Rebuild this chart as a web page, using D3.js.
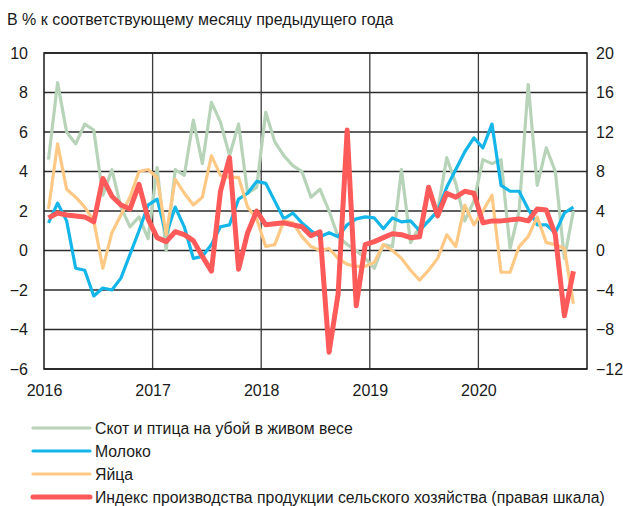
<!DOCTYPE html>
<html>
<head>
<meta charset="utf-8">
<script src="https://cdn.jsdelivr.net/npm/d3@7"></script>
<style>
  body { margin: 0; background: #fff; }
  text { font-family: "Liberation Sans", Arial, sans-serif; fill: #1a1a1a; }
</style>
</head>
<body>
<script>
var svgWidth = 623;
var svgHeight = 506;

var margin = { top: 53, right: 36, bottom: 137, left: 44 };
var width = svgWidth - margin.left - margin.right;
var height = svgHeight - margin.top - margin.bottom;

// monthly values, Jan 2016 .. Nov 2020
var years = ["2016", "2017", "2018", "2019", "2020"];
var leftTicks = [-6, -4, -2, 0, 2, 4, 6, 8, 10];
var rightTicks = [-12, -8, -4, 0, 4, 8, 12, 16, 20];

var livestock = [4.6, 8.5, 6.0, 5.4, 6.4, 6.1, 2.8, 4.1, 2.2, 1.2, 1.7, 0.6,
                 4.2, 0.0, 4.1, 3.8, 6.6, 4.4, 7.5, 6.5, 4.8, 6.4, 2.9, 3.2,
                 7.0, 5.5, 4.8, 4.3, 4.0, 2.7, 3.1, 2.0, 0.7, 0.3, 0.0, -0.4,
                 -0.9, 0.3, 0.2, 4.1, 0.4, 1.2, 1.5, 2.0, 4.7, 3.4, 1.5, 2.5,
                 4.6, 4.4, 4.6, 0.1, 2.0, 8.4, 3.3, 5.2, 4.0, -0.4, 2.0];
var milk = [1.4, 2.4, 1.5, -0.9, -1.0, -2.3, -1.9, -2.0, -1.4, -0.2, 1.0, 2.3,
            2.6, 0.8, 2.2, 1.2, -0.4, -0.3, 0.3, 1.2, 1.3, 2.6, 2.9, 3.5,
            3.4, 2.5, 1.6, 1.9, 1.4, 1.0, 0.7, 0.9, 0.7, 1.3, 1.6, 1.7,
            1.65, 1.1, 1.65, 1.45, 1.5, 1.0, 1.5, 2.0, 3.2, 4.1, 5.0, 5.7,
            5.2, 6.4, 3.3, 3.0, 3.0, 2.1, 1.3, 1.3, 0.9, 1.9, 2.2];
var eggs = [2.1, 5.4, 3.1, 2.7, 2.2, 1.5, -0.9, 0.9, 1.8, 2.7, 4.0, 4.1,
            3.7, 0.8, 3.6, 2.9, 2.3, 2.7, 4.8, 3.8, 3.7, 3.7, 2.2, 1.6,
            0.2, 0.3, 1.5, 1.4, 0.7, 0.2, 0.0, 0.1, -0.4, -0.7, -0.8, -0.8,
            -0.6, 0.3, 0.0, -0.4, -1.0, -1.5, -1.0, -0.4, 0.8, 0.2, 2.3, 1.3,
            2.0, 2.8, -1.1, -1.1, 0.2, 0.7, 1.7, 0.4, 0.3, 0.1, -2.7];
// right scale
var agriIndex = [3.3, 3.8, 3.6, 3.5, 3.4, 2.9, 7.3, 5.5, 4.6, 4.2, 6.7, 3.2,
                 1.3, 0.9, 1.9, 1.6, 1.0, -0.6, -2.1, 6.0, 9.4, -1.9, 1.8, 4.0,
                 2.6, 2.7, 2.8, 2.6, 2.4, 1.5, 1.9, -10.3, -4.4, 12.2, -5.6, 0.6,
                 0.9, 1.3, 1.7, 1.6, 1.3, 1.4, 6.4, 3.5, 5.8, 5.4, 6.0, 5.8,
                 2.8, 3.0, 3.0, 3.1, 3.2, 3.0, 4.2, 4.1, 1.6, -6.6, -2.1];

var seriesNames = ["Скот и птица на убой в живом весе", "Молоко", "Яйца",
                   "Индекс производства продукции сельского хозяйства (правая шкала)"];
var colors = ["#b7d3b8", "#14b6e9", "#ffc985", "#ff5a5a"];
var widths = [3.2, 3.2, 3.2, 5];

var svg = d3.select("body").append("svg")
            .attr("width", svgWidth)
            .attr("height", svgHeight);

svg.append("text")
   .attr("x", 7)
   .attr("y", 25)
   .style("font-size", "16px")
   .text("В % к соответствующему месяцу предыдущего года");

var chartGroup = svg.append("g")
                    .attr("transform", `translate(${margin.left}, ${margin.top})`);

var xScale = d3.scaleLinear().domain([0, 60]).range([0, width]);
var yLeft = d3.scaleLinear().domain([-6, 10]).range([height, 0]);
var yRight = d3.scaleLinear().domain([-12, 20]).range([height, 0]);

// horizontal grid
chartGroup.selectAll(".hgrid")
          .data(leftTicks)
          .enter()
          .append("line")
          .attr("x1", 0)
          .attr("x2", width)
          .attr("y1", d => yLeft(d))
          .attr("y2", d => yLeft(d))
          .attr("stroke", "#2b2b2b")
          .attr("stroke-width", 1.3);

// vertical year lines
chartGroup.selectAll(".vgrid")
          .data(years.slice(1))
          .enter()
          .append("line")
          .attr("x1", (d, i) => xScale((i + 1) * 12))
          .attr("x2", (d, i) => xScale((i + 1) * 12))
          .attr("y1", 0)
          .attr("y2", height)
          .attr("stroke", "#3a3a3a")
          .attr("stroke-width", 1.3);

chartGroup.append("rect")
          .attr("width", width)
          .attr("height", height)
          .attr("fill", "none")
          .attr("stroke", "#1a1a1a")
          .attr("stroke-width", 1.5);

// axis labels
var leftAxis = d3.axisLeft(yLeft).tickValues(leftTicks).tickSize(0).tickPadding(16);
var rightAxis = d3.axisRight(yRight).tickValues(rightTicks).tickSize(0).tickPadding(9);
var bottomAxis = d3.axisBottom(xScale).tickValues([0, 12, 24, 36, 48])
                   .tickFormat((d, i) => years[i]).tickSize(0).tickPadding(16);

[chartGroup.append("g").call(leftAxis),
 chartGroup.append("g").attr("transform", `translate(${width}, 0)`).call(rightAxis),
 chartGroup.append("g").attr("transform", `translate(0, ${height})`).call(bottomAxis)]
  .forEach(function(g) {
    g.select(".domain").remove();
    g.selectAll("text").style("font-size", "16px").style("font-family", "'Liberation Sans', Arial, sans-serif").attr("fill", "#1a1a1a");
  });

// lines
var leftLine = d3.line().x((d, i) => xScale(i + 0.5)).y(d => yLeft(d));
var rightLine = d3.line().x((d, i) => xScale(i + 0.5)).y(d => yRight(d));

var allSeries = [livestock, milk, eggs, agriIndex];
allSeries.forEach(function(s, k) {
  chartGroup.append("path")
            .datum(s)
            .attr("d", k === 3 ? rightLine : leftLine)
            .attr("fill", "none")
            .attr("stroke", colors[k])
            .attr("stroke-width", widths[k])
            .attr("stroke-linejoin", "round");
});

// legend
var legend = svg.append("g").attr("transform", "translate(33, 428)");
var rows = legend.selectAll("g")
                 .data(seriesNames)
                 .enter()
                 .append("g")
                 .attr("transform", (d, i) => `translate(0, ${i * 23})`);
rows.append("line")
    .attr("x1", 0).attr("x2", 57)
    .attr("y1", 0).attr("y2", 0)
    .attr("stroke", (d, i) => colors[i])
    .attr("stroke-width", (d, i) => i === 3 ? 5 : 3.2)
    .attr("stroke-linecap", "round");
rows.append("text")
    .attr("x", 62)
    .attr("y", 5.5)
    .style("font-size", "15.8px")
    .text(d => d);
</script>
</body>
</html>
